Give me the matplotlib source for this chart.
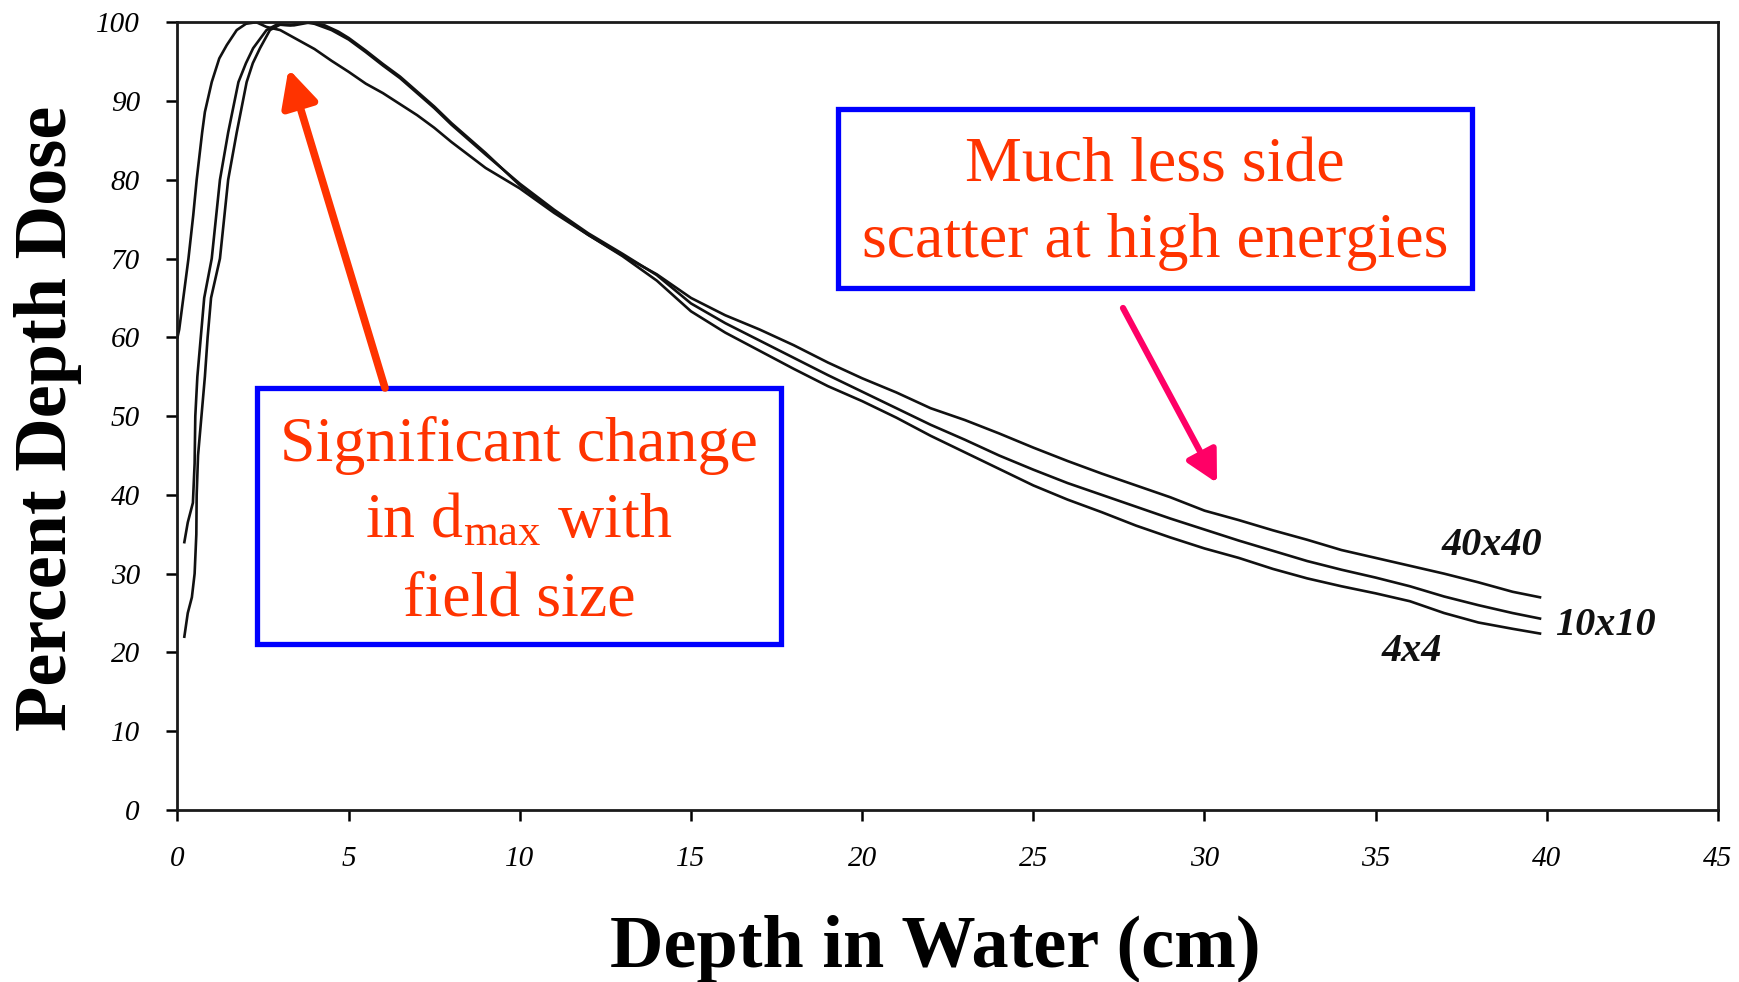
import matplotlib
matplotlib.use("Agg")
import matplotlib.pyplot as plt
from matplotlib.patches import Rectangle, FancyArrowPatch

plt.rcParams['font.family'] = ['Liberation Serif', 'DejaVu Serif']
plt.rcParams['mathtext.fontset'] = 'custom'
plt.rcParams['mathtext.rm'] = 'Liberation Serif'
plt.rcParams['mathtext.it'] = 'Liberation Serif:italic'

# Percent depth dose curves, depth in cm
depth_40 = [0.0, 0.05, 0.17, 0.32, 0.46, 0.56, 0.72, 0.8, 1.0, 1.22, 1.44, 1.73,
            2.0, 2.3, 2.6, 3.0, 3.5, 4.0, 4.5, 5.0, 5.5, 6.0, 6.5, 7.0, 7.5, 8.0,
            9.0, 10.0, 11.0, 12.0, 13.0, 14.0, 15.0, 16.0, 17.0, 18.0, 19.0, 20.0,
            21.0, 22.0, 23.0, 24.0, 25.0, 26.0, 27.0, 28.0, 29.0, 30.0, 31.0, 32.0,
            33.0, 34.0, 35.0, 36.0, 37.0, 38.0, 39.0, 39.8]
pdd_40 = [60.0, 61.0, 65.0, 70.0, 75.5, 80.0, 86.0, 88.6, 92.4, 95.4, 97.1, 99.0,
          99.8, 100.0, 99.4, 99.0, 97.8, 96.6, 95.1, 93.7, 92.2, 91.0, 89.6, 88.2, 86.6, 84.8,
          81.5, 78.9, 75.8, 73.0, 70.4, 68.0, 65.0, 62.8, 61.0, 59.0, 56.8, 54.8,
          53.0, 51.0, 49.5, 47.8, 46.0, 44.3, 42.7, 41.2, 39.7, 38.0, 36.8, 35.5,
          34.3, 33.0, 32.0, 31.0, 30.0, 28.9, 27.7, 27.0]

depth_10 = [0.2, 0.3, 0.45, 0.5, 0.52, 0.58, 0.68, 0.78, 1.0, 1.12, 1.24, 1.48,
            1.78, 2.0, 2.21, 2.6, 2.9, 3.3, 3.7, 4.0, 4.5, 5.0, 5.5, 6.0, 6.5, 7.0,
            7.5, 8.0, 9.0, 10.0, 11.0, 12.0, 13.0, 14.0, 15.0, 16.0, 17.0, 18.0,
            19.0, 20.0, 21.0, 22.0, 23.0, 24.0, 25.0, 26.0, 27.0, 28.0, 29.0, 30.0,
            31.0, 32.0, 33.0, 34.0, 35.0, 36.0, 37.0, 38.0, 39.0, 39.8]
pdd_10 = [34.0, 36.5, 39.0, 44.0, 50.0, 55.0, 60.0, 65.0, 70.0, 75.0, 80.0, 86.0,
          92.4, 94.8, 96.7, 99.0, 99.7, 99.6, 100.0, 99.8, 99.0, 97.8, 96.2, 94.5, 92.9, 91.0,
          89.1, 87.0, 83.2, 79.5, 76.2, 73.2, 70.6, 67.9, 64.3, 61.8, 59.6, 57.4,
          55.2, 53.1, 51.0, 48.9, 47.0, 45.0, 43.2, 41.5, 40.0, 38.5, 37.0, 35.6,
          34.2, 32.9, 31.6, 30.5, 29.5, 28.4, 27.1, 26.0, 25.0, 24.3]

depth_4 = [0.2, 0.3, 0.42, 0.5, 0.55, 0.56, 0.6, 0.7, 0.8, 0.88, 0.98, 1.24,
           1.36, 1.48, 1.73, 2.02, 2.2, 2.41, 2.7, 3.0, 3.4, 3.9, 4.3, 4.7, 5.0, 5.5,
           6.0, 6.5, 7.0, 7.5, 8.0, 9.0, 10.0, 11.0, 12.0, 13.0, 14.0, 15.0, 16.0,
           17.0, 18.0, 19.0, 20.0, 21.0, 22.0, 23.0, 24.0, 25.0, 26.0, 27.0, 28.0,
           29.0, 30.0, 31.0, 32.0, 33.0, 34.0, 35.0, 36.0, 37.0, 38.0, 39.0, 39.8]
pdd_4 = [22.0, 25.0, 27.0, 30.0, 35.0, 40.0, 45.0, 50.0, 55.0, 60.0, 65.0, 70.0,
         75.0, 80.0, 86.0, 92.4, 94.8, 96.7, 99.0, 99.7, 99.6, 100.0, 99.6, 98.8, 98.0, 96.4,
         94.7, 93.1, 91.2, 89.3, 87.2, 83.4, 79.3, 76.0, 73.0, 70.3, 67.2, 63.3, 60.6,
         58.3, 56.0, 53.8, 51.9, 49.8, 47.5, 45.4, 43.3, 41.2, 39.4, 37.8, 36.1,
         34.6, 33.2, 32.0, 30.6, 29.4, 28.4, 27.5, 26.5, 25.0, 23.8, 23.0, 22.4]

field_labels = ["40x40", "10x10", "4x4"]
label_pos = [(38.4, 33.6), (41.7, 23.4), (36.05, 20.1)]

x_ticks = list(range(0, 46, 5))
y_ticks = list(range(0, 101, 10))

W, H = 1740, 982
fig = plt.figure(figsize=(W / 100, H / 100), dpi=100)
ax = fig.add_axes([177.5 / W, 1 - 810 / H, (1718 - 177.5) / W, (810 - 22.2) / H])

line_kw = dict(color="#111111", lw=1.9)
ax.plot(depth_40, pdd_40, **line_kw)
ax.plot(depth_10, pdd_10, **line_kw)
ax.plot(depth_4, pdd_4, **line_kw)

ax.set_xlim(0, 45)
ax.set_ylim(0, 100)
ax.set_xticks(x_ticks)
ax.set_yticks(y_ticks)
ax.set_xticklabels([str(t) for t in x_ticks], fontstyle="italic", fontsize=21)
ax.set_yticklabels([str(t) for t in y_ticks], fontstyle="italic", fontsize=21)
ax.tick_params(axis="x", direction="out", length=8, width=1.8, pad=18)
ax.tick_params(axis="y", direction="out", length=8, width=1.8, pad=19)
for s in ax.spines.values():
    s.set_linewidth(2.0)
    s.set_color("#1a1a1a")

for lab, (lx, ly) in zip(field_labels, label_pos):
    ax.text(lx, ly, lab, fontsize=29, fontweight="bold", fontstyle="italic",
            ha="center", va="center", color="#111111")

fig.text(48 / W, 1 - 418 / H, "Percent Depth Dose", rotation=90, fontsize=53.5,
         fontweight="bold", ha="center", va="center")
fig.text(935 / W, 1 - 949 / H, "Depth in Water (cm)", fontsize=53.5,
         fontweight="bold", ha="center", va="center")

red = "#FF3300"
blue = "#0000FF"

# annotation boxes
for (x0, y0, x1, y1) in [(257, 388, 781, 644), (838, 109, 1472, 288)]:
    fig.add_artist(Rectangle((x0 / W, 1 - y1 / H), (x1 - x0) / W, (y1 - y0) / H,
                             transform=fig.transFigure, fill=False,
                             edgecolor=blue, lw=3.8))

box1_lines = ["Significant change", r"in d$_{\mathrm{max}}$ with", "field size"]
for txt, py in zip(box1_lines, [445.5, 522, 600]):
    fig.text(519 / W, 1 - py / H, txt, fontsize=46, color=red,
             ha="center", va="center")

box2_lines = ["Much less side", "scatter at high energies"]
for txt, py in zip(box2_lines, [167, 242]):
    fig.text(1155 / W, 1 - py / H, txt, fontsize=46, color=red,
             ha="center", va="center")

fig.add_artist(FancyArrowPatch((385 / W, 1 - 388 / H), (288.5 / W, 1 - 68.8 / H),
                               transform=fig.transFigure, arrowstyle="-|>,head_length=22,head_width=11",
                               color=red, lw=5.5, shrinkA=0, shrinkB=0))
fig.add_artist(FancyArrowPatch((1123 / W, 1 - 308 / H), (1217 / W, 1 - 483 / H),
                               transform=fig.transFigure, arrowstyle="-|>,head_length=19,head_width=10",
                               color="#FF0066", lw=4.5, shrinkA=0, shrinkB=0))

fig.savefig("out.png", dpi=100, facecolor="white")
